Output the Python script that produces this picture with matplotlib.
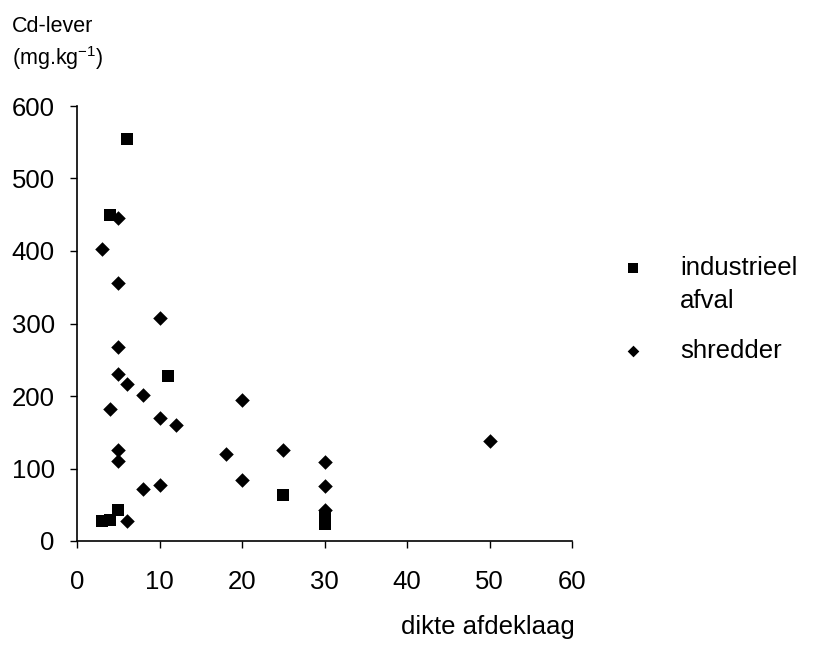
import numpy as np
import matplotlib
matplotlib.use("Agg")
import matplotlib.pyplot as plt

# dikte afdeklaag (cm) tegen Cd-gehalte in de lever (mg/kg)
ind_x = [6, 4, 11, 25, 5, 3, 4, 30, 30, 30]
ind_y = [554, 450, 228, 64, 43, 27, 29, 34, 28, 23]

shr_x = [5, 3, 5, 10, 5, 5, 6, 8, 20, 4, 10, 12, 5, 5, 18, 20, 8, 10, 6,
         25, 30, 50, 30, 30]
shr_y = [446, 403, 356, 307, 267, 230, 216, 202, 195, 182, 169, 160, 126, 111,
         120, 84, 72, 77, 28, 125, 109, 138, 76, 43]

x_ticks = [0, 10, 20, 30, 40, 50, 60]
y_ticks = [0, 100, 200, 300, 400, 500, 600]

plt.rcParams['font.family'] = ['Liberation Sans', 'DejaVu Sans']
plt.rcParams['mathtext.fontset'] = 'custom'
plt.rcParams['mathtext.rm'] = 'Liberation Sans'

FS = 18.5

fig = plt.figure(figsize=(8.23, 6.64), dpi=100)
ax = fig.add_axes([77 / 823, 1 - 541 / 664, 495 / 823, 435 / 664])

ax.scatter(ind_x, ind_y, marker='s', s=85, color='black', linewidths=0,
           label='industrieel', clip_on=False, zorder=3)
ax.scatter(shr_x, shr_y, marker='D', s=55, color='black', linewidths=0,
           label='shredder', clip_on=False, zorder=3)

ax.set_xlim(0, 60)
ax.set_ylim(0, 600)
ax.set_xticks(x_ticks)
ax.set_yticks(y_ticks)
ax.tick_params(direction='out', length=5, width=1, labelsize=FS)
ax.tick_params(axis='x', pad=16)
ax.tick_params(axis='y', pad=11)
for side in ['top', 'right']:
    ax.spines[side].set_visible(False)
for side in ['left', 'bottom']:
    ax.spines[side].set_linewidth(1.2)

# as-titels
fig.text(12 / 823, 1 - 26 / 664, 'Cd-lever', fontsize=15.5, va='center', ha='left')
fig.text(12 / 823, 1 - 58 / 664, r'(mg.kg$^{\mathregular{-1}}$)', fontsize=15.5,
         va='center', ha='left')
fig.text(488 / 823, 1 - 627 / 664, 'dikte afdeklaag', fontsize=FS,
         va='center', ha='center')

leg = ax.legend(loc='upper left', bbox_to_anchor=(621 / 823, 1 - 256 / 664),
                bbox_transform=fig.transFigure, frameon=False, fontsize=FS,
                markerscale=0.8, handlelength=0.9, handletextpad=1.4,
                labelspacing=2.3, borderpad=0, borderaxespad=0)
fig.text(680 / 823, 1 - 301 / 664, 'afval', fontsize=FS, va='center', ha='left')

fig.savefig('out.png', dpi=100)
